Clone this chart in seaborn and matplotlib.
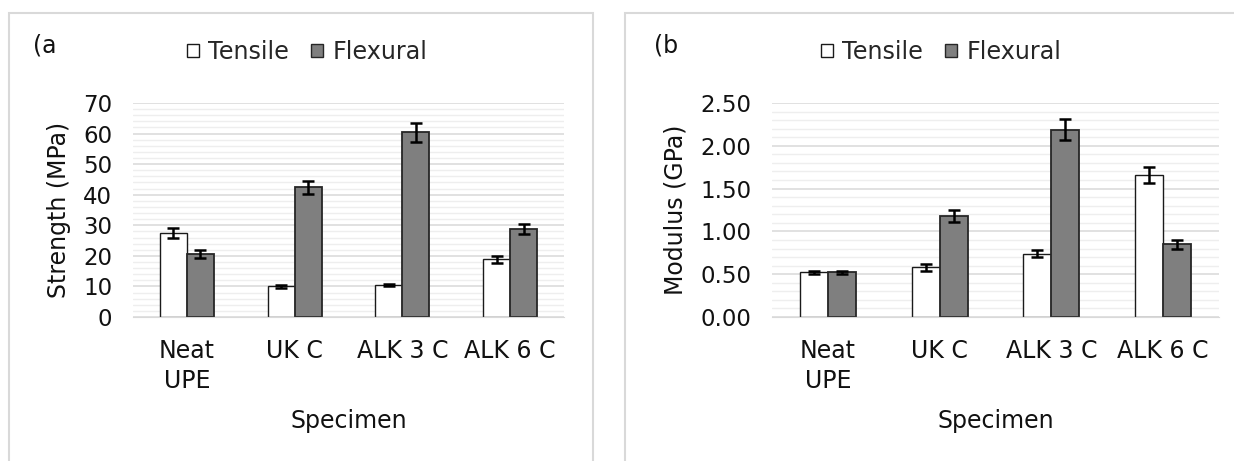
import numpy as np
import pandas as pd
import matplotlib.pyplot as plt
from matplotlib.patches import Rectangle
from matplotlib.ticker import MultipleLocator, FormatStrFormatter
import seaborn as sns

# dati
specimens = ["Neat\nUPE", "UK C", "ALK 3 C", "ALK 6 C"]
tests = ["Tensile", "Flexural"]

strength_tensile = [27.5, 10.1, 10.5, 18.9]
strength_flexural = [20.6, 42.4, 60.4, 28.9]
strength_tensile_err = [1.5, 0.5, 0.4, 1.1]
strength_flexural_err = [1.2, 2.2, 3.0, 1.6]

modulus_tensile = [0.52, 0.58, 0.74, 1.66]
modulus_flexural = [0.52, 1.18, 2.19, 0.85]
modulus_tensile_err = [0.02, 0.04, 0.04, 0.09]
modulus_flexural_err = [0.02, 0.07, 0.12, 0.05]

sns.set_style("white")
plt.rcParams["font.family"] = ["DejaVu Sans"]

palette = {"Tensile": "white", "Flexural": "#7f7f7f"}
edges = {"Tensile": "#1a1a1a", "Flexural": "#262626"}
txt = "#111111"


def make_df(tens, flex):
    return pd.DataFrame({
        "Specimen": specimens * 2,
        "Test": ["Tensile"] * 4 + ["Flexural"] * 4,
        "value": list(tens) + list(flex),
    })


def draw(ax, df, errs, ylabel, ymax, major, minor, fmt, ylab_x, leg_x, fig):
    sns.barplot(data=df, x="Specimen", y="value", hue="Test", hue_order=tests,
                order=specimens, palette=palette, width=0.5, errorbar=None,
                ax=ax, legend=True)
    for test, cont, err in zip(tests, ax.containers, errs):
        for bar, e in zip(cont, err):
            bar.set_edgecolor(edges[test])
            bar.set_linewidth(1.0 if test == "Tensile" else 1.3)
            ax.errorbar(bar.get_x() + bar.get_width() / 2, bar.get_height(), yerr=e,
                        fmt="none", ecolor="black", elinewidth=1.8, capsize=4,
                        capthick=1.8, zorder=5)
    ax.set_xlim(-0.5, 3.5)
    ax.set_ylim(0, ymax)
    ax.yaxis.set_major_locator(MultipleLocator(major))
    ax.yaxis.set_minor_locator(MultipleLocator(minor))
    ax.yaxis.set_major_formatter(FormatStrFormatter(fmt))
    ax.grid(which="major", axis="y", color="#d9d9d9", lw=1.1)
    ax.grid(which="minor", axis="y", color="#eeeeee", lw=1.0)
    ax.set_axisbelow(True)
    for s in ["top", "right", "left"]:
        ax.spines[s].set_visible(False)
    ax.spines["bottom"].set_color("#d9d9d9")
    ax.tick_params(axis="both", which="both", length=0, colors=txt)
    ax.tick_params(axis="x", pad=16, labelsize=17)
    ax.tick_params(axis="y", pad=15, labelsize=16.5)
    for t in ax.get_xticklabels():
        t.set_linespacing(1.3)
    ax.set_xlabel("Specimen", fontsize=17, color=txt)
    ax.xaxis.set_label_coords(0.5, -0.486)
    ax.xaxis.label.set_va("center")
    ax.set_ylabel(ylabel, fontsize=17, color=txt)
    ax.yaxis.set_label_coords(ylab_x, 0.5)
    ax.yaxis.label.set_va("center")
    leg = ax.legend(ncol=2, frameon=False, loc="center", bbox_to_anchor=(leg_x, 0.887),
                    bbox_transform=fig.transFigure, handlelength=0.5, handleheight=0.5,
                    handletextpad=0.4, columnspacing=0.9, fontsize=17.2)
    for h, test in zip(leg.legend_handles, tests):
        h.set_edgecolor(edges[test])
        h.set_linewidth(1.0)


fig = plt.figure(figsize=(12.34, 4.61), dpi=100)
ax1 = fig.add_axes([133 / 1234, 144 / 461, 431 / 1234, 214 / 461])
ax2 = fig.add_axes([772 / 1234, 144 / 461, 447 / 1234, 214 / 461])

draw(ax1, make_df(strength_tensile, strength_flexural),
     [strength_tensile_err, strength_flexural_err],
     "Strength (MPa)", 70, 10, 2, "%d", -0.172, 307 / 1234, fig)
draw(ax2, make_df(modulus_tensile, modulus_flexural),
     [modulus_tensile_err, modulus_flexural_err],
     "Modulus (GPa)", 2.5, 0.5, 0.1, "%.2f", -0.217, 941 / 1234, fig)

# cornici dei pannelli
fig.patches.append(Rectangle((9 / 1234, -0.1), 584 / 1234, 1.0725, transform=fig.transFigure,
                             fill=False, edgecolor="#d9d9d9", lw=1.5))
fig.patches.append(Rectangle((625 / 1234, -0.1), 0.6, 1.0725, transform=fig.transFigure,
                             fill=False, edgecolor="#d9d9d9", lw=1.5))

fig.text(33 / 1234, 1 - 45 / 461, "(a", fontsize=17, va="center", ha="left", color=txt)
fig.text(654 / 1234, 1 - 45 / 461, "(b", fontsize=17, va="center", ha="left", color=txt)

plt.savefig("out.png", dpi=100)
